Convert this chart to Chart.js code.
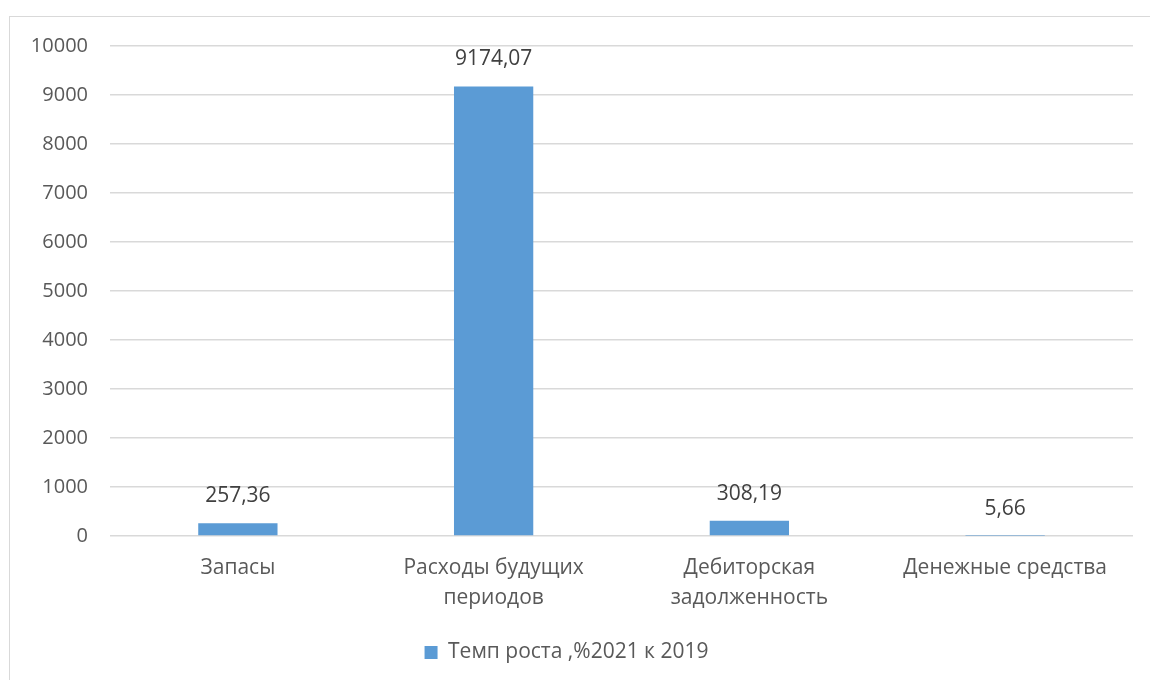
<!DOCTYPE html>
<html lang="ru">
<head>
    <meta charset="UTF-8">
    <title>Темп роста</title>
    <style>
        body { margin: 0; background: #fff; }
        #frame { position: absolute; left: 9px; top: 16px; width: 1200px; height: 700px; border: 1px solid #d9d9d9; }
        #wrap { position: absolute; left: 0; top: 0; width: 1150px; height: 680px; }
    </style>
</head>
<body>
    <div id="frame"></div>
    <div id="wrap">
        <canvas id="myChart"></canvas>
    </div>

    <script src="https://cdn.jsdelivr.net/npm/chart.js"></script>

    <script>
        // categories (multi-line labels as in the original)
        const categories = [
            ['Запасы'],
            ['Расходы будущих', 'периодов'],
            ['Дебиторская', 'задолженность'],
            ['Денежные средства']
        ];
        const growth = [257.36, 9174.07, 308.19, 5.66];
        const seriesName = 'Темп роста ,%2021 к 2019';
        const yTicks = [0, 1000, 2000, 3000, 4000, 5000, 6000, 7000, 8000, 9000, 10000];

        const ctx = document.getElementById('myChart');
        const fontFamily = "'Open Sans', 'Noto Sans', sans-serif";

        // value labels above the bars
        const barLabels = {
            id: 'barLabels',
            afterDatasetsDraw(chart) {
                const c = chart.ctx;
                const meta = chart.getDatasetMeta(0);
                c.save();
                c.font = '21px ' + fontFamily;
                c.fillStyle = '#404040';
                c.textAlign = 'center';
                c.textBaseline = 'middle';
                meta.data.forEach((bar, i) => {
                    const txt = growth[i].toFixed(2).replace('.', ',');
                    c.fillText(txt, bar.x, bar.y - 27);
                });
                c.restore();
            }
        };

        new Chart(ctx, {
            type: 'bar',
            data: {
                labels: categories,
                datasets: [{
                    label: seriesName,
                    data: growth,
                    backgroundColor: '#5b9bd5',
                    borderWidth: 0,
                    barPercentage: 0.31,
                    categoryPercentage: 1
                }]
            },
            options: {
                responsive: true,
                maintainAspectRatio: false,
                animation: false,
                layout: {
                    padding: { top: 46, right: 17, left: 0, bottom: 7 }
                },
                plugins: {
                    tooltip: { enabled: false },
                    legend: {
                        position: 'bottom',
                        labels: {
                            boxWidth: 13,
                            boxHeight: 13,
                            color: '#595959',
                            font: { family: fontFamily, size: 21 },
                            padding: 20
                        }
                    }
                },
                scales: {
                    x: {
                        grid: { display: false },
                        border: { display: false },
                        ticks: {
                            color: '#595959',
                            font: { family: fontFamily, size: 21, lineHeight: 1.43 },
                            padding: 9,
                            maxRotation: 0
                        }
                    },
                    y: {
                        min: 0,
                        max: 10000,
                        afterFit(scale) { scale.width = 110; },
                        afterBuildTicks(scale) {
                            scale.ticks = yTicks.map(v => ({ value: v }));
                        },
                        grid: { color: '#d9d9d9', lineWidth: 1.5, drawTicks: false },
                        border: { display: false },
                        ticks: {
                            color: '#595959',
                            font: { family: fontFamily, size: 20 },
                            padding: 22,
                            callback: v => String(v)
                        }
                    }
                }
            },
            plugins: [barLabels]
        });
    </script>
</body>
</html>
